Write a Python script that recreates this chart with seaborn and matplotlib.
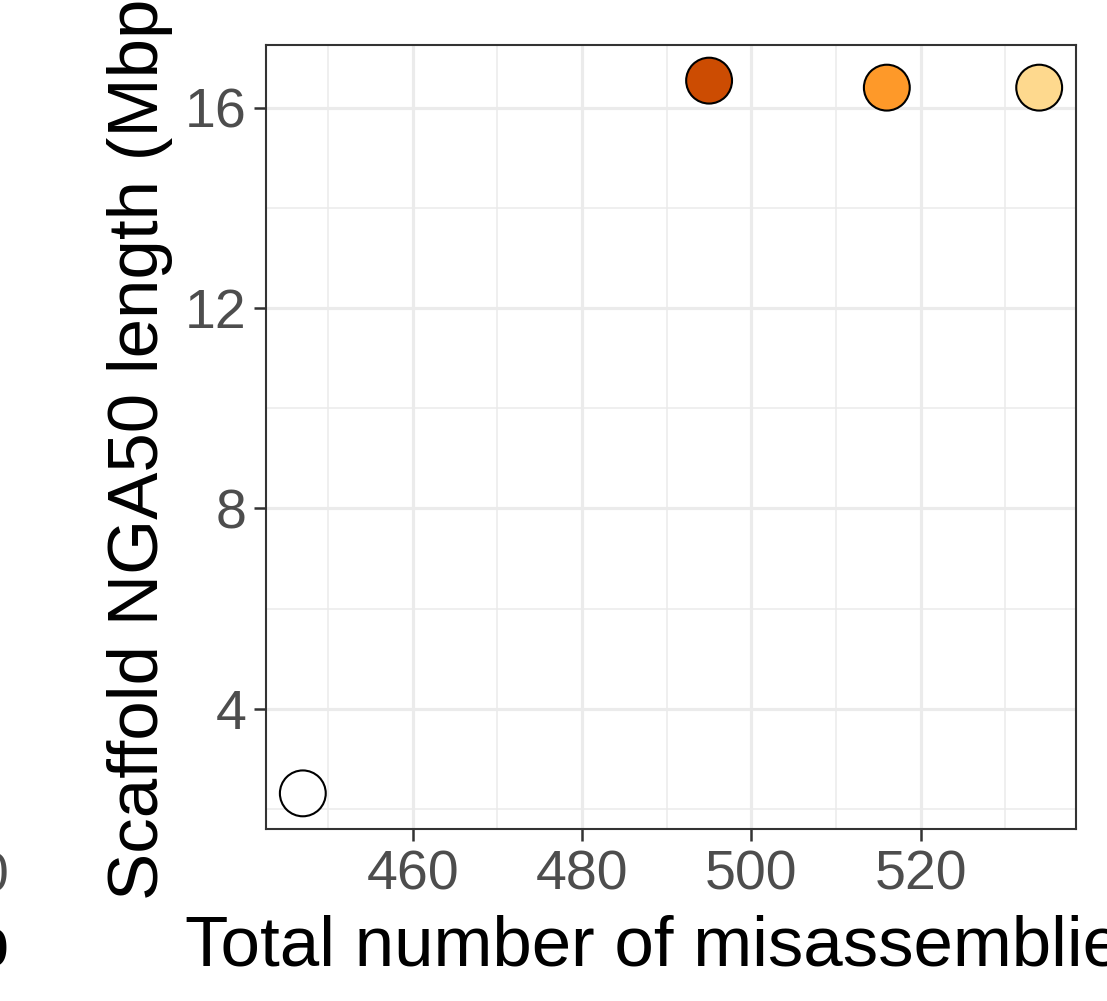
import matplotlib
matplotlib.use("Agg")
import matplotlib.pyplot as plt
import seaborn as sns
import pandas as pd

# ---- data ----
assemblies = ["A", "B", "C", "D"]
misassemblies = [447, 495, 516, 534]
nga50_mbp = [2.31, 16.54, 16.40, 16.40]
fill_colors = ["#FFFFFF", "#CC4C02", "#FE9929", "#FED98E"]
x_ticks = [460, 480, 500, 520]
x_minor = [450, 470, 490, 510, 530]
y_ticks = [4, 8, 12, 16]
y_minor = [2, 6, 10, 14]

df = pd.DataFrame({"assembly": assemblies, "mis": misassemblies, "nga50": nga50_mbp})

sns.set_theme(style="white")
plt.rcParams["font.family"] = ["Liberation Sans", "DejaVu Sans"]

W, H = 1107, 1001
fig = plt.figure(figsize=(W / 100, H / 100), dpi=100)
L, R, T, B = 266, 1076, 45, 829
ax = fig.add_axes([L / W, 1 - B / H, (R - L) / W, (B - T) / H])

sns.scatterplot(data=df, x="mis", y="nga50", hue="assembly",
                palette=dict(zip(assemblies, fill_colors)),
                s=1090, edgecolor="black", linewidth=1.5, legend=False,
                ax=ax, zorder=3)

span_x = max(misassemblies) - min(misassemblies)
span_y = max(nga50_mbp) - min(nga50_mbp)
ax.set_xlim(min(misassemblies) - 0.05 * span_x, max(misassemblies) + 0.05 * span_x)
ax.set_ylim(min(nga50_mbp) - 0.05 * span_y, max(nga50_mbp) + 0.05 * span_y)

ax.set_xticks(x_ticks)
ax.set_xticks(x_minor, minor=True)
ax.set_yticks(y_ticks)
ax.set_yticks(y_minor, minor=True)
ax.set_xticklabels([str(v) for v in x_ticks])
ax.set_yticklabels([str(v) for v in y_ticks])

ax.grid(which="major", color="#EBEBEB", linewidth=2.3, zorder=0)
ax.grid(which="minor", color="#EBEBEB", linewidth=1.15, zorder=0)
ax.set_axisbelow(True)

for sp in ax.spines.values():
    sp.set_visible(True)
    sp.set_color("#333333")
    sp.set_linewidth(1.5)

ax.tick_params(which="major", length=8.6, width=1.8, color="#333333",
               labelsize=40, labelcolor="#4D4D4D", bottom=True, left=True)
ax.tick_params(axis="x", which="major", pad=6.5)
ax.tick_params(axis="y", which="major", pad=5.5)
ax.tick_params(which="minor", length=0)

ax.set_xlabel("Total number of misassemblies", fontsize=51, color="black")
ax.set_ylabel("Scaffold NGA50 length (Mbp)", fontsize=51, color="black")
ax.xaxis.set_label_coords(0.5, -(965 - B) / (B - T))
ax.xaxis.label.set_va("baseline")
ax.yaxis.set_label_coords(-(L - 158) / (R - L), 0.5)
ax.yaxis.label.set_va("baseline")

# fragments of the neighbouring panel, cut by the left edge
fig.text(9 / W, 1 - 892 / H, "0", fontsize=40, color="#4D4D4D", ha="right", va="baseline")
fig.text(9 / W, 1 - 965 / H, "b", fontsize=51, color="black", ha="right", va="baseline")

fig.savefig("out.png", dpi=100)
